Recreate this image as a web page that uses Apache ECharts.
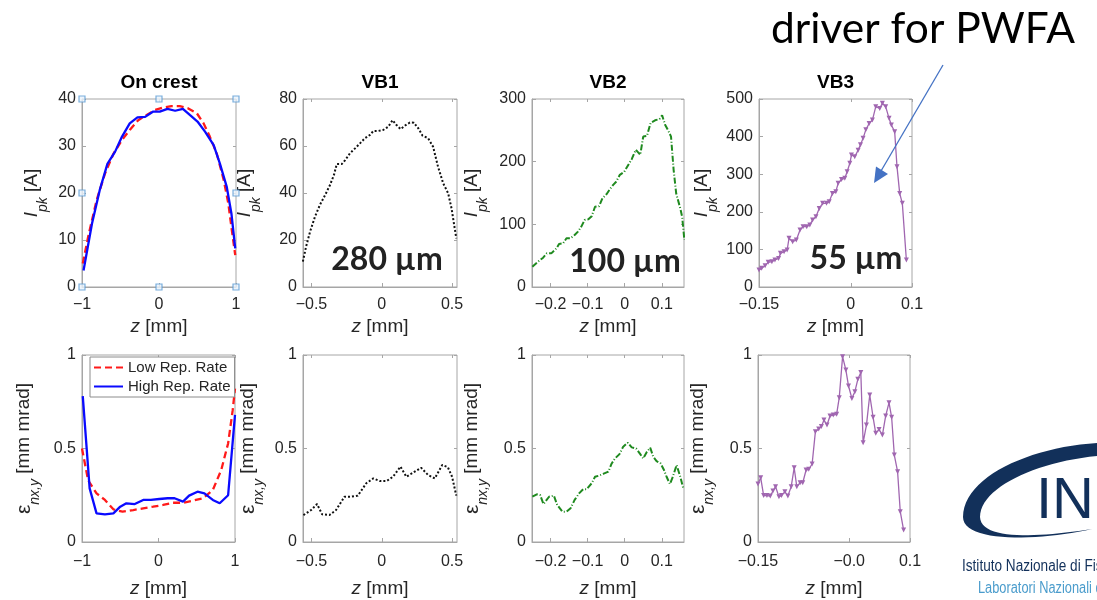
<!DOCTYPE html>
<html><head><meta charset="utf-8">
<script src="https://cdn.jsdelivr.net/npm/echarts@6/dist/echarts.min.js"></script>
<style>html,body{margin:0;padding:0;background:#fff}#c{width:1097px;height:600px}</style>
</head><body><div id="c"></div>
<script>
// ---------------- DATA ----------------
const panelTitles = ['On crest', 'VB1', 'VB2', 'VB3'];
const bunchLengths = ['280 \u00B5m', '100 \u00B5m', '55 \u00B5m'];
const legendNames = ['Low Rep. Rate', 'High Rep. Rate'];

// tick values / labels
const ocXTicks = [-1, 0, 1];            const ocXLabels = ['\u22121', '0', '1'];
const vb1XTicks = [-0.5, 0, 0.5];       const vb1XLabels = ['\u22120.5', '0', '0.5'];
const vb2XTicks = [-0.2, -0.1, 0, 0.1]; const vb2XLabels = ['\u22120.2', '\u22120.1', '0', '0.1'];
const vb3XTicks = [-0.15, 0, 0.1];      const vb3XLabelsTop = ['\u22120.15', '0', '0.1'];
const vb3XLabelsBot = ['\u22120.15', '\u22120.0', '0.1'];
const ocYTicks = [0, 10, 20, 30, 40];
const vb1YTicks = [0, 20, 40, 60, 80];
const vb2YTicks = [0, 100, 200, 300];
const vb3YTicks = [0, 100, 200, 300, 400, 500];
const emYTicks = [0, 0.5, 1];           const emYLabels = ['0', '0.5', '1'];

// axis ranges
const ocXRange = [-1, 1];
const vb1XRange = [-0.56, 0.535];
const vb2XRange = [-0.25, 0.16];
const vb3XRange = [-0.15, 0.1];

// On crest – peak current
const ocLowZ = [-0.99,-0.92,-0.81,-0.70,-0.59,-0.48,-0.38,-0.27,-0.16,-0.05,0.06,0.16,0.27,0.38,0.49,0.58,0.66,0.75,0.84,0.90,0.94,0.99];
const ocLowI = [5.0,10.7,18.5,24.2,28.4,31.3,33.4,35.5,36.6,37.7,38.2,38.5,38.5,38.0,37.0,34.8,32.0,28.4,22.8,17.8,12.8,6.8];
const ocHighZ = [-0.98,-0.87,-0.77,-0.67,-0.57,-0.48,-0.38,-0.28,-0.18,-0.08,0.01,0.11,0.21,0.31,0.40,0.50,0.60,0.71,0.79,0.88,0.94,0.99];
const ocHighI = [3.5,13.5,20.6,26.2,28.8,32.0,34.8,36.1,36.2,37.3,37.3,37.9,37.5,37.9,36.6,35.2,33.0,30.2,26.3,21.3,15.7,8.2];
// On crest – emittance
const ocLowEZ = [-1.0,-0.92,-0.81,-0.70,-0.59,-0.47,-0.33,-0.20,-0.07,0.06,0.19,0.32,0.45,0.58,0.71,0.82,0.91,0.97,1.0];
const ocLowE = [0.5,0.33,0.26,0.225,0.175,0.162,0.171,0.18,0.189,0.198,0.21,0.21,0.221,0.234,0.278,0.385,0.527,0.705,0.82];
const ocHighEZ = [-0.99,-0.90,-0.81,-0.70,-0.59,-0.50,-0.42,-0.31,-0.20,-0.10,0.01,0.12,0.21,0.32,0.40,0.51,0.60,0.71,0.80,0.91,1.0];
const ocHighE = [0.78,0.287,0.153,0.148,0.153,0.189,0.207,0.203,0.225,0.225,0.23,0.234,0.234,0.216,0.248,0.269,0.26,0.225,0.207,0.25,0.68];
// selection handles on the first panel (z, I)
const handleZ = [-1, 0, 1, -1, 1, -1, 0, 1];
const handleI = [0, 0, 0, 20, 20, 40, 40, 40];

// VB1
const vb1Z = [-0.561,-0.538,-0.51,-0.475,-0.44,-0.403,-0.368,-0.34,-0.32,-0.285,-0.26,-0.226,-0.19,-0.155,-0.12,-0.084,-0.06,-0.025,0.01,0.046,0.077,0.105,0.134,0.17,0.2,0.228,0.26,0.29,0.33,0.365,0.4,0.437,0.472,0.496,0.53];
const vb1I = [10.8,17.2,23.5,29.9,34.9,39.1,43.4,47.7,52.3,52.3,54,56.9,59,61.1,63.3,64.7,66.4,66.4,66.8,68.2,71,68.9,67.2,68.9,70,69.9,67.5,64.4,63.3,59.7,51.2,44.1,39.9,33.5,20.7];
const vb1EZ = [-0.557,-0.502,-0.46,-0.424,-0.372,-0.325,-0.265,-0.218,-0.17,-0.11,-0.06,-0.013,0.035,0.08,0.133,0.175,0.234,0.28,0.33,0.377,0.43,0.47,0.5,0.53];
const vb1E = [0.144,0.171,0.203,0.148,0.144,0.171,0.242,0.242,0.248,0.314,0.34,0.326,0.326,0.349,0.403,0.349,0.376,0.397,0.358,0.34,0.412,0.4,0.349,0.248];

// VB2
const vb2Z = [-0.249,-0.234,-0.22,-0.21,-0.198,-0.184,-0.177,-0.166,-0.157,-0.146,-0.135,-0.126,-0.117,-0.108,-0.098,-0.089,-0.08,-0.069,-0.06,-0.049,-0.04,-0.031,-0.023,-0.013,-0.001,0.01,0.019,0.03,0.042,0.05,0.06,0.07,0.082,0.094,0.101,0.109,0.118,0.125,0.132,0.139,0.15,0.155,0.161];
const vb2I = [32.4,40.4,46.8,53.7,53.7,61.7,68.6,69.7,77.7,77.7,83,88.3,96.3,107,108,113,128,129,141.5,148,156,163,168,179,184,195,204,219,211,240,241,262,266,268,274,259,249,240,187,149,125.5,112,75];
const vb2EZ = [-0.249,-0.237,-0.228,-0.219,-0.204,-0.191,-0.182,-0.168,-0.157,-0.146,-0.135,-0.123,-0.112,-0.103,-0.089,-0.08,-0.069,-0.058,-0.044,-0.035,-0.026,-0.014,-0.004,0.008,0.019,0.031,0.042,0.05,0.06,0.069,0.077,0.086,0.097,0.106,0.113,0.122,0.13,0.14,0.15,0.158];
const vb2E = [0.242,0.255,0.251,0.203,0.242,0.248,0.198,0.162,0.162,0.18,0.225,0.26,0.282,0.282,0.314,0.349,0.355,0.364,0.376,0.42,0.447,0.47,0.51,0.531,0.506,0.5,0.47,0.447,0.483,0.504,0.456,0.433,0.42,0.385,0.349,0.31,0.349,0.412,0.349,0.287];

// VB3
const vb3Z = [-0.15,-0.1457,-0.14,-0.135,-0.129,-0.124,-0.118,-0.115,-0.109,-0.104,-0.101,-0.095,-0.089,-0.083,-0.078,-0.072,-0.067,-0.0625,-0.057,-0.0516,-0.046,-0.0397,-0.0353,-0.03,-0.0245,-0.0207,-0.0152,-0.0098,-0.006,-0.0016,0.001,0.0065,0.012,0.0158,0.020,0.0245,0.0299,0.0353,0.0408,0.0473,0.0516,0.057,0.0625,0.0663,0.0717,0.0755,0.0799,0.0842,0.0908];
const vb3I = [45,49.6,56.7,65.6,67.4,71.8,76,89.5,94,98.4,129.4,120.6,125,151.6,160.5,160.5,165,178,187,209,222.5,222.5,227,249,253.5,275.7,286,289,306.7,329,351,346.6,364,378,395.4,418,435,444,479.6,475,488.5,479.6,448.6,430.8,413,320,249,222.5,71.8];
const vb3EZ = [-0.15,-0.1456,-0.1407,-0.1353,-0.1298,-0.1254,-0.1211,-0.1156,-0.1113,-0.1058,-0.1009,-0.0954,-0.0905,-0.0862,-0.0807,-0.0764,-0.0709,-0.0665,-0.061,-0.0556,-0.0502,-0.0458,-0.0415,-0.0365,-0.0316,-0.0262,-0.0207,-0.0164,-0.0109,-0.0055,-0.0011,0.0044,0.0093,0.0142,0.0191,0.0229,0.0284,0.0338,0.0393,0.0437,0.0491,0.0546,0.06,0.0655,0.0698,0.0742,0.0796,0.084,0.0895];
const vb3E = [0.31,0.344,0.248,0.248,0.246,0.273,0.296,0.242,0.248,0.269,0.246,0.296,0.397,0.296,0.317,0.317,0.385,0.389,0.417,0.59,0.604,0.617,0.652,0.626,0.674,0.679,0.683,0.772,0.991,0.92,0.834,0.768,0.804,0.87,0.906,0.531,0.626,0.786,0.667,0.581,0.602,0.572,0.674,0.745,0.667,0.465,0.376,0.162,0.064];

// ---------------- STYLE / LAYOUT ----------------
const FONT = '"Liberation Sans", Arial, sans-serif';
const AX = '#a6a6a6';
const TXT = '#262626';
const C_RED = '#ff1a1a', C_BLUE = '#0a0aff', C_BLACK = '#111111', C_GREEN = '#1f8a1f', C_PURPLE = '#a066b0';

const rows = [
  {top: 99, h: 188, xGap: 30, xMargin: 10},
  {top: 355, h: 187, xGap: 37, xMargin: 12}
];
const colLeft = [[82, 303, 532, 759], [82, 303, 532, 758]];
const colWidth = [[154, 154, 152, 153], [153, 154, 152, 152]];
const yGaps = [[32, 40, 42, 39], [40, 37, 42, 42]];

function zip(a, b) { const n = Math.min(a.length, b.length); const r = []; for (let i = 0; i < n; i++) r.push([a[i], b[i]]); return r; }
function fmt(ticks, labels) {
  return function (v) { for (let i = 0; i < ticks.length; i++) if (Math.abs(v - ticks[i]) < 1e-9) return labels ? labels[i] : String(ticks[i]); return ''; };
}

const rich = {
  i: {fontFamily: FONT, fontSize: 19, fontStyle: 'italic', lineHeight: 28, verticalAlign: 'top', color: TXT},
  s: {fontFamily: FONT, fontSize: 14, fontStyle: 'italic', lineHeight: 14, verticalAlign: 'bottom', color: TXT},
  n: {fontFamily: FONT, fontSize: 19, lineHeight: 28, verticalAlign: 'top', color: TXT},
  e: {fontFamily: FONT, fontSize: 21, lineHeight: 28, verticalAlign: 'top', color: TXT}
};
const nameCur = '{i|I}{s|pk}{n| [A]}';
const nameEm = '{e|\u03B5}{s|nx,y}{n| [mm mrad]}';
const nameZ = '{i|z}{n| [mm]}';

const grids = [], xAxes = [], yAxes = [], xMirror = [], yMirror = [];
const panels = [
  {r: 0, c: 0, xr: ocXRange, xt: ocXTicks, xl: ocXLabels, yr: [0, 40], yt: ocYTicks, yl: null, yn: nameCur},
  {r: 0, c: 1, xr: vb1XRange, xt: vb1XTicks, xl: vb1XLabels, yr: [0, 80], yt: vb1YTicks, yl: null, yn: nameCur},
  {r: 0, c: 2, xr: vb2XRange, xt: vb2XTicks, xl: vb2XLabels, yr: [0, 300], yt: vb2YTicks, yl: null, yn: nameCur},
  {r: 0, c: 3, xr: vb3XRange, xt: vb3XTicks, xl: vb3XLabelsTop, yr: [0, 500], yt: vb3YTicks, yl: null, yn: nameCur},
  {r: 1, c: 0, xr: ocXRange, xt: ocXTicks, xl: ocXLabels, yr: [0, 1], yt: emYTicks, yl: emYLabels, yn: nameEm},
  {r: 1, c: 1, xr: vb1XRange, xt: vb1XTicks, xl: vb1XLabels, yr: [0, 1], yt: emYTicks, yl: emYLabels, yn: nameEm},
  {r: 1, c: 2, xr: vb2XRange, xt: vb2XTicks, xl: vb2XLabels, yr: [0, 1], yt: emYTicks, yl: emYLabels, yn: nameEm},
  {r: 1, c: 3, xr: vb3XRange, xt: vb3XTicks, xl: vb3XLabelsBot, yr: [0, 1], yt: emYTicks, yl: emYLabels, yn: nameEm}
];

panels.forEach(function (p, gi) {
  const row = rows[p.r];
  grids.push({left: colLeft[p.r][p.c], top: row.top, width: colWidth[p.r][p.c], height: row.h,
    show: true, borderColor: AX, borderWidth: 1, backgroundColor: '#fff', containLabel: false, outerBoundsMode: 'none'});
  xAxes.push({gridIndex: gi, type: 'value', min: p.xr[0], max: p.xr[1], position: 'bottom',
    name: nameZ, nameLocation: 'middle', nameGap: row.xGap, nameTextStyle: {rich: rich},
    axisLine: {show: true, onZero: false, lineStyle: {color: AX, width: 1}},
    axisTick: {show: true, inside: true, length: 4, lineStyle: {color: AX}, customValues: p.xt},
    axisLabel: {show: true, customValues: p.xt, formatter: fmt(p.xt, p.xl), fontFamily: FONT, fontSize: 16, color: TXT, margin: row.xMargin, hideOverlap: false},
    splitLine: {show: false}});
  yAxes.push({gridIndex: gi, type: 'value', min: p.yr[0], max: p.yr[1], position: 'left',
    name: p.yn, nameLocation: 'middle', nameRotate: 90, nameGap: yGaps[p.r][p.c], nameTextStyle: {rich: rich},
    axisLine: {show: true, onZero: false, lineStyle: {color: AX, width: 1}},
    axisTick: {show: true, inside: true, length: 4, lineStyle: {color: AX}, customValues: p.yt},
    axisLabel: {show: true, customValues: p.yt, formatter: fmt(p.yt, p.yl), fontFamily: FONT, fontSize: 16, color: TXT, margin: 6, hideOverlap: false},
    splitLine: {show: false}});
  // mirrored (MATLAB box) ticks on top and right
  xMirror.push({gridIndex: gi, type: 'value', min: p.xr[0], max: p.xr[1], position: 'top',
    axisLine: {show: false, onZero: false}, axisTick: {show: true, inside: true, length: 3, lineStyle: {color: AX}, customValues: p.xt},
    axisLabel: {show: false}, splitLine: {show: false}});
  yMirror.push({gridIndex: gi, type: 'value', min: p.yr[0], max: p.yr[1], position: 'right',
    axisLine: {show: false, onZero: false}, axisTick: {show: true, inside: true, length: 3, lineStyle: {color: AX}, customValues: p.yt},
    axisLabel: {show: false}, splitLine: {show: false}});
});

function line(gi, name, data, color, type, width, extra) {
  return Object.assign({type: 'line', name: name, xAxisIndex: gi, yAxisIndex: gi, data: data,
    symbol: 'none', smooth: false, silent: true, animation: false,
    lineStyle: {color: color, type: type, width: width}, itemStyle: {color: color}}, extra || {});
}
const triMarker = {symbol: 'triangle', symbolRotate: 180, symbolSize: 5, showAllSymbol: true};

const series = [
  line(0, legendNames[0], zip(ocLowZ, ocLowI), C_RED, [7, 4], 2.3),
  line(0, legendNames[1], zip(ocHighZ, ocHighI), C_BLUE, 'solid', 2.3),
  {type: 'scatter', xAxisIndex: 0, yAxisIndex: 0, data: zip(handleZ, handleI), symbol: 'rect', symbolSize: 6,
    clip: false, silent: true, z: 10, animation: false,
    itemStyle: {color: '#eaf2fb', borderColor: '#5b9bd5', borderWidth: 1.2}},
  line(1, 'VB1 I', zip(vb1Z, vb1I), C_BLACK, 'dotted', 2),
  line(2, 'VB2 I', zip(vb2Z, vb2I), C_GREEN, [6, 2, 1, 2], 2),
  line(3, 'VB3 I', zip(vb3Z, vb3I), C_PURPLE, 'solid', 1.3, triMarker),
  line(4, legendNames[0], zip(ocLowEZ, ocLowE), C_RED, [7, 4], 2.3),
  line(4, legendNames[1], zip(ocHighEZ, ocHighE), C_BLUE, 'solid', 2.3),
  line(5, 'VB1 E', zip(vb1EZ, vb1E), C_BLACK, 'dotted', 2),
  line(6, 'VB2 E', zip(vb2EZ, vb2E), C_GREEN, [6, 2, 1, 2], 2),
  line(7, 'VB3 E', zip(vb3EZ, vb3E), C_PURPLE, 'solid', 1.3, triMarker)
];

// ---------------- GRAPHIC ANNOTATIONS ----------------
function bez(p0, p1, p2, p3, n) {
  const pts = [];
  for (let k = 0; k <= n; k++) {
    const t = k / n, u = 1 - t;
    pts.push([u*u*u*p0[0] + 3*u*u*t*p1[0] + 3*u*t*t*p2[0] + t*t*t*p3[0],
              u*u*u*p0[1] + 3*u*u*t*p1[1] + 3*u*t*t*p2[1] + t*t*t*p3[1]]);
  }
  return pts;
}
const crescent = [].concat(
  bez([1097,443],[1030,447],[963,477],[963,517],24),
  bez([963,517],[963,543],[1040,541],[1092,529],24),
  bez([1092,529],[1040,537],[981,541],[980,517],24),
  bez([980,517],[980,488],[1035,462],[1097,456],24)
);

const graphic = [];
panelTitles.forEach(function (t, i) {
  graphic.push({type: 'text', x: colLeft[0][i] + colWidth[0][i] / 2, y: 83, silent: true,
    style: {text: t, fontFamily: FONT, fontSize: 19, fontWeight: 'bold', fill: '#000',
      align: 'center', verticalAlign: 'middle', textAlign: 'center', textVerticalAlign: 'middle'}});
});
const bigPos = [[387, 260], [625, 262], [856, 259]];
bunchLengths.forEach(function (t, i) {
  graphic.push({type: 'text', x: bigPos[i][0], y: bigPos[i][1], silent: true, z: 50,
    style: {text: t, fontFamily: 'Lato, "Open Sans", sans-serif', fontSize: 32, fontWeight: 'bold', fill: '#222',
      align: 'center', verticalAlign: 'middle', textAlign: 'center', textVerticalAlign: 'middle'}});
});
graphic.push({type: 'text', x: 771, y: 29, silent: true,
  style: {text: 'driver for PWFA', fontFamily: 'Lato, "Open Sans", sans-serif', fontSize: 42.5, fill: '#000',
    align: 'left', verticalAlign: 'middle', textAlign: 'left', textVerticalAlign: 'middle'}});
graphic.push({type: 'line', silent: true, z: 60, shape: {x1: 943, y1: 65, x2: 881, y2: 171},
  style: {stroke: '#4472c4', lineWidth: 1.3}});
graphic.push({type: 'polygon', silent: true, z: 60, shape: {points: [[874, 183], [888, 174], [876, 166.5]]},
  style: {fill: '#4472c4'}});
graphic.push({type: 'polygon', silent: true, shape: {points: crescent}, style: {fill: '#12305a'}});
graphic.push({type: 'text', x: 1036, y: 502, silent: true,
  style: {text: 'IN', fontFamily: FONT, fontSize: 58, fill: '#12305a', align: 'left', verticalAlign: 'middle', textAlign: 'left', textVerticalAlign: 'middle'}});
graphic.push({type: 'text', x: 962, y: 567, scaleX: 0.85, silent: true,
  style: {text: 'Istituto Nazionale di Fisica Nucleare', fontFamily: FONT, fontSize: 16, fill: '#12305a', align: 'left', verticalAlign: 'middle', textAlign: 'left', textVerticalAlign: 'middle'}});
graphic.push({type: 'text', x: 978, y: 589, scaleX: 0.8, silent: true,
  style: {text: 'Laboratori Nazionali di Frascati', fontFamily: FONT, fontSize: 16, fill: '#4a9ccc', align: 'left', verticalAlign: 'middle', textAlign: 'left', textVerticalAlign: 'middle'}});

const chart = echarts.init(document.getElementById('c'), null, {renderer: 'canvas'});
chart.setOption({
  backgroundColor: '#ffffff',
  animation: false,
  grid: grids,
  xAxis: xAxes.concat(xMirror),
  yAxis: yAxes.concat(yMirror),
  legend: {data: legendNames, orient: 'vertical', left: 90, top: 357, itemGap: 4, itemWidth: 29, itemHeight: 12,
    padding: [3, 4, 3, 3], borderColor: '#8c8c8c', borderWidth: 1, backgroundColor: '#fff', selectedMode: false, z: 20,
    itemStyle: {opacity: 0, borderWidth: 0},
    textStyle: {fontFamily: FONT, fontSize: 15, color: TXT}},
  series: series,
  graphic: graphic
});
</script></body></html>
